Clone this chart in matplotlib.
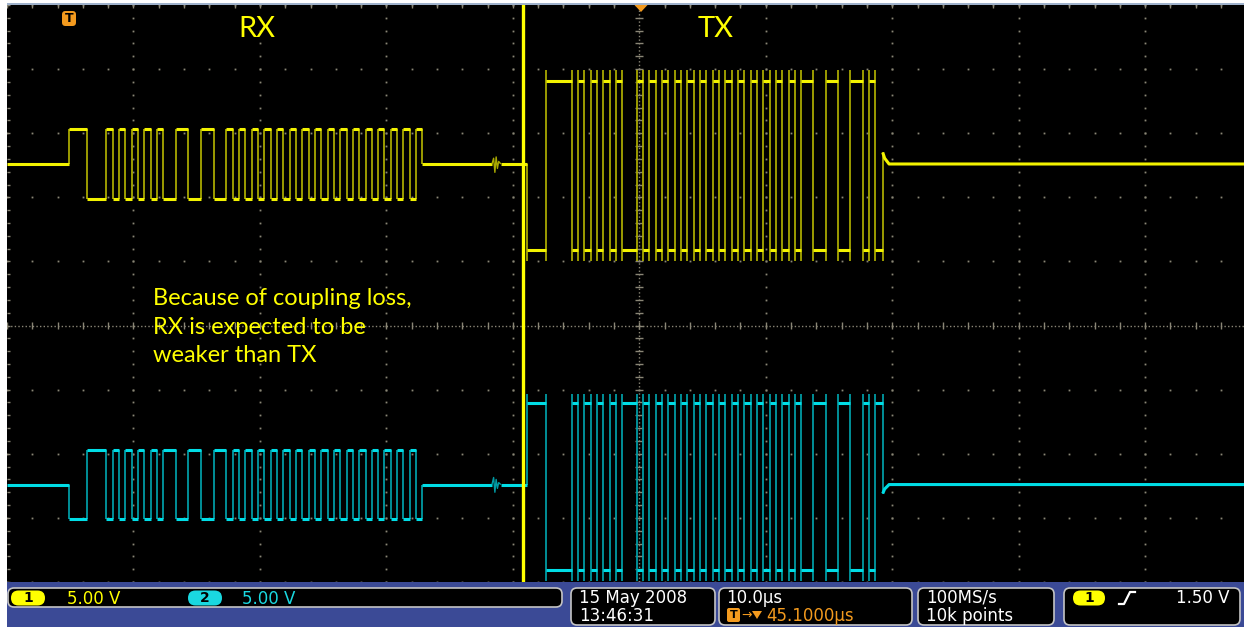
import numpy as np
import matplotlib
matplotlib.use("Agg")
import matplotlib.pyplot as plt
from matplotlib.collections import LineCollection
from matplotlib.patches import FancyBboxPatch, Rectangle, Polygon

# ---------------- data ----------------
time_per_div_us = 10.0      # horizontal scale
delay_us = 45.1             # trigger -> screen centre
volts_per_div = 5.0         # both channels
ch1_offset_div = 2.52       # yellow trace position (div)
ch2_offset_div = -2.48      # cyan trace position (div)

# RX burst: edge times (µs); levels alternate between phase A / phase B
rx_edges_us = [0.0, 1.45, 2.95, 3.45, 3.95, 4.45, 4.95, 5.45, 5.95, 6.45, 6.95, 7.45,
               8.45, 9.45, 10.45, 11.45,
               12.45, 12.95, 13.45, 13.95, 14.45, 14.95, 15.45, 15.95, 16.45, 16.95,
               17.45, 17.95, 18.45, 18.95, 19.45, 19.95, 20.45, 20.95, 21.45, 21.95,
               22.45, 22.95, 23.45, 23.95, 24.45, 24.95, 25.45, 25.95, 26.45, 26.95,
               27.45]
rx_end_us = 27.95
rx_ch1_levels_v = [2.73, -2.73]
rx_ch2_levels_v = [-2.66, 2.73]

# small ringing between the bursts
glitch_t_us = [33.45, 33.58, 33.68, 33.78, 33.88, 33.98, 34.15]
glitch_ch1_v = [0.0, 0.45, -0.65, 0.55, -0.35, 0.2, 0.0]
glitch_ch2_v = [0.0, 0.55, -0.6, 0.4, -0.3, 0.15, 0.0]

# TX burst: edge times (µs); levels alternate between phase A / phase B
tx_edges_us = [36.25, 37.75, 39.75, 40.25, 40.75, 41.25, 41.75, 42.25, 42.75, 43.25, 43.75,
               44.9, 45.4, 45.9, 46.4, 46.9, 47.4, 47.9, 48.4, 48.9, 49.4, 49.9, 50.4,
               50.9, 51.4, 51.9, 52.4, 52.9, 53.4, 53.9, 54.4, 54.9, 55.4, 55.9, 56.4,
               56.9, 57.4, 57.85, 58.85, 59.85, 60.8, 61.8, 62.8, 63.3, 63.75]
tx_end_us = 64.35
tx_ch1_levels_v = [-6.68, 6.45]
tx_ch2_levels_v = [6.33, -6.64]
tx_ch1_spikes_v = [-7.6, 7.3]
tx_ch2_spikes_v = [-7.5, 7.03]
tx_ch1_return_overshoot_v = 0.9
tx_ch2_return_overshoot_v = -0.7

divider_us = 35.94          # yellow marker line separating RX / TX

labels_top = ["RX", "TX"]
note_lines = ["Because of coupling loss,", "RX is expected to be", "weaker than TX"]
ch_scales = ["5.00 V", "5.00 V"]
date_txt = ["15 May 2008", "13:46:31"]
horiz_txt = ["10.0\u00b5s", "45.1000\u00b5s"]
acq_txt = ["100MS/s", "10k points"]
trig_txt = "1.50 V"

# ---------------- figure geometry ----------------
W, H = 1244, 627
fig = plt.figure(figsize=(W / 100, H / 100), dpi=100)
fig.patch.set_facecolor("white")

scr_l, scr_t, scr_r, scr_b = 7, 5, 1244, 582
ax = fig.add_axes([scr_l / W, (H - scr_b) / H, (scr_r - scr_l) / W, (scr_b - scr_t) / H])
ax.set_facecolor("black")
for s in ax.spines.values():
    s.set_visible(False)
ax.set_xticks([])
ax.set_yticks([])

px_per_div_x = 126.46
x_left = delay_us - 5 * time_per_div_us
x_right = x_left + (scr_r - scr_l) / px_per_div_x * time_per_div_us
ax.set_xlim(x_left, x_right)
ax.set_ylim(-4.0, 5.0)

# ---------------- graticule ----------------
gcol = "#8a8676"
dx = time_per_div_us / 5
xs_minor = np.arange(x_left, x_right + 1e-6, dx)
ys_minor = np.arange(-4.0, 5.0 + 1e-6, 0.2)
for k in range(-4, 5):
    if k == 0:
        continue
    xk = delay_us + k * time_per_div_us
    ax.plot(np.full_like(ys_minor, xk), ys_minor, ls="none", marker="s", ms=1.3,
            mec="none", color=gcol, zorder=1)
for j in range(-4, 6):
    if j == 0:
        continue
    ax.plot(xs_minor, np.full_like(xs_minor, j), ls="none", marker="s", ms=1.3,
            mec="none", color=gcol, zorder=1)
# centre cross (dense dots + ticks)
ax.plot([delay_us, delay_us], [-4, 5], ls=(0, (1, 1.6)), lw=1.0, color=gcol, zorder=1)
ax.plot([x_left, x_right], [0, 0], ls=(0, (1, 1.6)), lw=1.0, color=gcol, zorder=1)
tick_h = 0.32  # µs half-length of ticks on vertical centre line
tick_v = 0.06  # div half-length of ticks on horizontal centre line
segs = [[(delay_us - tick_h, y), (delay_us + tick_h, y)] for y in ys_minor]
segs += [[(x, -tick_v), (x, tick_v)] for x in xs_minor]
# edge ticks
segs += [[(x_left, y), (x_left + 0.25, y)] for y in ys_minor]
segs += [[(x, 5.0), (x, 5.0 - 0.05)] for x in xs_minor]
ax.add_collection(LineCollection(segs, colors=gcol, linewidths=1.0, zorder=1))


# ---------------- traces ----------------
def build_channel(offset, rx_levels, glitch_v, tx_levels, tx_spikes, ret_os):
    def Y(v):
        return offset + v / volts_per_div
    plateaus, verts, extra = [], [], []
    t_prev, v_prev = x_left, 0.0
    for i, t in enumerate(rx_edges_us):
        v_new = rx_levels[i % 2]
        plateaus.append([(t_prev, Y(v_prev)), (t, Y(v_prev))])
        verts.append([(t, Y(v_prev)), (t, Y(v_new))])
        t_prev, v_prev = t, v_new
    plateaus.append([(t_prev, Y(v_prev)), (rx_end_us, Y(v_prev))])
    verts.append([(rx_end_us, Y(v_prev)), (rx_end_us, Y(0.0))])
    # baseline + glitch
    plateaus.append([(rx_end_us, Y(0.0)), (glitch_t_us[0], Y(0.0))])
    extra.append([(t, Y(v)) for t, v in zip(glitch_t_us, glitch_v)])
    plateaus.append([(glitch_t_us[-1], Y(0.0)), (tx_edges_us[0], Y(0.0))])
    # TX
    lo, hi = min(tx_spikes), max(tx_spikes)
    t_prev, v_prev = tx_edges_us[0], tx_levels[0]
    first_sp = hi if tx_levels[0] > 0 else lo
    verts.append([(t_prev, Y(0.0)), (t_prev, Y(first_sp))])
    for i, t in enumerate(tx_edges_us[1:], start=1):
        v_new = tx_levels[i % 2]
        plateaus.append([(t_prev, Y(v_prev)), (t, Y(v_prev))])
        verts.append([(t, Y(lo)), (t, Y(hi))])
        t_prev, v_prev = t, v_new
    plateaus.append([(t_prev, Y(v_prev)), (tx_end_us, Y(v_prev))])
    end_sp = hi if v_prev > 0 else lo
    verts.append([(tx_end_us, Y(end_sp)), (tx_end_us, Y(ret_os))])
    tail = [(tx_end_us, Y(ret_os)), (tx_end_us + 0.15, Y(ret_os * 0.5)),
            (tx_end_us + 0.5, Y(0.0)), (x_right, Y(0.0))]
    return plateaus, verts, extra, tail


for offset, rxl, gv, txl, txs, ros, bright, dim in [
    (ch2_offset_div, rx_ch2_levels_v, glitch_ch2_v, tx_ch2_levels_v, tx_ch2_spikes_v,
     tx_ch2_return_overshoot_v, "#00dde6", "#009aa3"),
    (ch1_offset_div, rx_ch1_levels_v, glitch_ch1_v, tx_ch1_levels_v, tx_ch1_spikes_v,
     tx_ch1_return_overshoot_v, "#f2f200", "#a8a800"),
]:
    pl, vt, ex, tail = build_channel(offset, rxl, gv, txl, txs, ros)
    ax.add_collection(LineCollection(vt, colors=dim, linewidths=1.3, zorder=3))
    ax.add_collection(LineCollection(pl, colors=bright, linewidths=2.2, zorder=4,
                                     capstyle="butt"))
    ax.add_collection(LineCollection(ex, colors=dim, linewidths=1.0, zorder=4))
    ax.add_collection(LineCollection([tail], colors=bright, linewidths=2.2, zorder=4))

ax.axvline(divider_us, color="#ffff00", lw=2.4, zorder=6)

# ---------------- overlay (labels, status bar) ----------------
ov = fig.add_axes([0, 0, 1, 1])
ov.set_xlim(0, W)
ov.set_ylim(H, 0)
ov.axis("off")
ov.patch.set_alpha(0)

yel = "#ffff00"
cyan = "#1ad8e0"
orange = "#f39a1e"
ov.add_patch(Rectangle((scr_l, 3.2), scr_r - scr_l, 1.8, color="#9fb2cc", lw=0))

# trigger position markers
ov.add_patch(Polygon([(634.5, 5), (647.5, 5), (641, 12)], closed=True, color=orange, lw=0))
ov.add_patch(FancyBboxPatch((62, 11), 14, 15, boxstyle="round,pad=0,rounding_size=3.5",
                            fc=orange, ec="none"))
ov.text(69, 18.5, "T", ha="center", va="center", fontsize=9, fontweight="bold",
        color="black", family="DejaVu Sans")

ov.text(257, 37, labels_top[0], ha="center", va="baseline", fontsize=21, color=yel,
        family="Lato")
ov.text(716, 37, labels_top[1], ha="center", va="baseline", fontsize=21, color=yel,
        family="Lato")
for i, line in enumerate(note_lines):
    ov.text(153, 305 + 28.5 * i, line, ha="left", va="baseline", fontsize=17,
            color=yel, family="Lato")

# status bar
ov.add_patch(Rectangle((scr_l, scr_b), scr_r - scr_l, H - scr_b, color="#3b4a96", lw=0))


def box(x0, y0, x1, y1):
    ov.add_patch(FancyBboxPatch((x0, y0), x1 - x0, y1 - y0,
                                boxstyle="round,pad=0,rounding_size=6",
                                fc="black", ec="#c4c4c4", lw=1.2))


def pill(xc, yc, w, h, col, txt):
    ov.add_patch(FancyBboxPatch((xc - w / 2, yc - h / 2), w, h,
                                boxstyle="round,pad=0,rounding_size=%g" % (h / 2),
                                fc=col, ec="none"))
    ov.text(xc, yc + 0.5, txt, ha="center", va="center", fontsize=10,
            fontweight="bold", color="black", family="DejaVu Sans")


sfont = dict(family="DejaVu Sans", fontsize=12, va="baseline", ha="left")
box(8, 588, 562, 607)
pill(28, 598, 34, 15, yel, "1")
ov.text(67, 603.5, ch_scales[0], color=yel, **sfont)
pill(205, 598, 34, 15, cyan, "2")
ov.text(242, 603.5, ch_scales[1], color=cyan, **sfont)

row1, row2 = 603, 621
box(571, 588, 715, 625)
ov.text(579, row1, date_txt[0], color="white", **sfont)
ov.text(579, row2, date_txt[1], color="white", **sfont)

box(719, 588, 912, 625)
ov.text(726, row1, horiz_txt[0], color="white", **sfont)
ov.add_patch(FancyBboxPatch((727, 608), 13, 14, boxstyle="round,pad=0,rounding_size=2",
                            fc=orange, ec="none"))
ov.text(733.5, 615.5, "T", ha="center", va="center", fontsize=8, fontweight="bold",
        color="black", family="DejaVu Sans")
ov.text(741, 615, "\u2192", color=orange, family="DejaVu Sans", fontsize=9,
        va="center", ha="left")
ov.add_patch(Polygon([(752, 611), (762, 611), (757, 619)], closed=True, color=orange,
                     lw=0))
ov.text(766, row2, horiz_txt[1], color=orange, **sfont)

box(918, 588, 1054, 625)
ov.text(926, row1, acq_txt[0], color="white", **sfont)
ov.text(926, row2, acq_txt[1], color="white", **sfont)

box(1064, 588, 1240, 625)
pill(1089, 598, 32, 15, yel, "1")
ov.plot([1119, 1124, 1130, 1135], [604, 604, 592, 592], color="white", lw=1.6)
ov.text(1229, row1, trig_txt, color="white", family="DejaVu Sans", fontsize=12,
        va="baseline", ha="right")

fig.savefig("out.png", dpi=100, facecolor=fig.get_facecolor())
